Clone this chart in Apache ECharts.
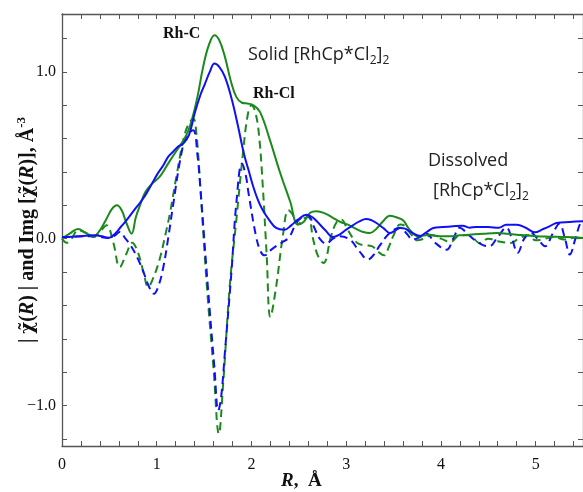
<!DOCTYPE html>
<html>
<head>
<meta charset="utf-8">
<script src="https://cdn.jsdelivr.net/npm/echarts@6/dist/echarts.min.js"></script>
<style>
html,body{margin:0;padding:0;background:#fff;}
#chart{width:583px;height:492px;}
</style>
</head>
<body>
<div id="chart"></div>
<script>
// ---- Data ----
// Solid [RhCp*Cl2]2 : magnitude |chi(R)|
var solidAbsR = [0, 0.08, 0.17, 0.25, 0.33, 0.40, 0.47, 0.53, 0.58, 0.63, 0.68, 0.735, 0.78, 0.83, 0.88, 0.95, 1.03, 1.12, 1.20, 1.26, 1.32, 1.37, 1.43, 1.49, 1.55, 1.61, 1.66, 1.72, 1.78, 1.84, 1.90, 1.96, 2.02, 2.09, 2.19, 2.30, 2.41, 2.49, 2.55, 2.62, 2.69, 2.78, 2.86, 2.94, 3.02, 3.10, 3.18, 3.25, 3.32, 3.39, 3.46, 3.52, 3.60, 3.67, 3.76, 3.88, 3.99, 4.09, 4.20, 4.30, 4.45, 4.59, 4.70, 4.80, 4.90, 5.01, 5.15, 5.29, 5.40, 5.50];
var solidAbs  = [0.00, 0.03, 0.058, 0.035, 0.015, 0.05, 0.12, 0.18, 0.20, 0.17, 0.094, 0.03, 0.13, 0.21, 0.28, 0.33, 0.37, 0.45, 0.52, 0.57, 0.63, 0.71, 0.85, 1.03, 1.16, 1.22, 1.19, 1.09, 0.95, 0.85, 0.815, 0.81, 0.80, 0.76, 0.60, 0.40, 0.22, 0.085, 0.10, 0.155, 0.165, 0.15, 0.125, 0.10, 0.084, 0.06, 0.04, 0.034, 0.06, 0.104, 0.138, 0.13, 0.11, 0.054, 0.014, 0.024, 0.014, 0.014, 0.02, 0.024, 0.03, 0.034, 0.03, 0.024, 0.02, 0.014, 0.012, 0.01, 0.008, 0.004];

// Solid [RhCp*Cl2]2 : imaginary part
var solidImR = [0, 0.05, 0.10, 0.17, 0.25, 0.33, 0.40, 0.47, 0.54, 0.61, 0.68, 0.74, 0.80, 0.86, 0.91, 0.96, 1.03, 1.09, 1.14, 1.21, 1.28, 1.33, 1.385, 1.42, 1.46, 1.53, 1.60, 1.656, 1.70, 1.77, 1.84, 1.91, 1.96, 2.00, 2.04, 2.08, 2.12, 2.16, 2.20, 2.26, 2.33, 2.39, 2.44, 2.49, 2.55, 2.60, 2.65, 2.70, 2.76, 2.84, 2.90, 2.95, 3.01, 3.07, 3.13, 3.20, 3.27, 3.34, 3.40, 3.45, 3.50, 3.57, 3.61, 3.68, 3.75, 3.82, 3.90, 4.00, 4.10, 4.20, 4.30, 4.41, 4.50, 4.60, 4.74, 4.82, 4.92, 5.00, 5.10, 5.20, 5.30, 5.40, 5.50];
var solidIm  = [0, -0.025, 0.0, 0.05, 0.035, 0.01, 0.04, 0.08, -0.02, -0.17, -0.09, -0.025, -0.08, -0.20, -0.29, -0.24, -0.125, 0.02, 0.154, 0.38, 0.59, 0.68, 0.72, 0.62, 0.31, -0.29, -0.78, -1.17, -0.88, -0.29, 0.11, 0.51, 0.74, 0.80, 0.76, 0.62, 0.31, -0.09, -0.47, -0.29, 0.01, 0.17, 0.14, 0.085, 0.12, 0.13, 0.0, -0.10, -0.146, 0.014, 0.10, 0.114, 0.06, 0.004, -0.03, -0.04, -0.045, -0.08, -0.10, -0.05, 0.02, 0.085, 0.08, 0.03, -0.01, 0.0, 0.02, 0.0, -0.02, 0.02, 0.02, -0.026, 0.0, -0.015, -0.026, 0.0, 0.02, -0.01, 0.0, 0.01, -0.005, 0.005, 0.0];

// Dissolved [RhCp*Cl2]2 : magnitude |chi(R)|
var dissAbsR = [0, 0.10, 0.20, 0.33, 0.42, 0.49, 0.56, 0.62, 0.68, 0.76, 0.83, 0.89, 0.95, 1.01, 1.07, 1.12, 1.17, 1.22, 1.28, 1.34, 1.40, 1.46, 1.51, 1.56, 1.61, 1.66, 1.72, 1.79, 1.86, 1.92, 1.97, 2.02, 2.07, 2.12, 2.19, 2.26, 2.35, 2.42, 2.49, 2.58, 2.64, 2.69, 2.78, 2.86, 2.93, 3.00, 3.07, 3.14, 3.21, 3.27, 3.32, 3.40, 3.46, 3.52, 3.57, 3.62, 3.67, 3.78, 3.85, 3.92, 4.02, 4.13, 4.23, 4.30, 4.37, 4.50, 4.61, 4.69, 4.80, 4.90, 4.99, 5.08, 5.15, 5.22, 5.36, 5.50];
var dissAbs  = [0.01, 0.012, 0.015, 0.02, 0.015, 0.004, 0.03, 0.07, 0.11, 0.17, 0.22, 0.27, 0.33, 0.39, 0.44, 0.49, 0.52, 0.55, 0.57, 0.62, 0.75, 0.86, 0.93, 1.00, 1.05, 1.03, 0.97, 0.84, 0.67, 0.51, 0.41, 0.31, 0.23, 0.17, 0.11, 0.065, 0.054, 0.08, 0.114, 0.144, 0.13, 0.104, 0.05, 0.01, 0.025, 0.054, 0.08, 0.104, 0.118, 0.11, 0.094, 0.06, 0.034, 0.05, 0.064, 0.06, 0.044, 0.016, 0.04, 0.064, 0.07, 0.075, 0.078, 0.066, 0.07, 0.07, 0.065, 0.084, 0.084, 0.064, 0.038, 0.058, 0.075, 0.094, 0.10, 0.104];

// Dissolved [RhCp*Cl2]2 : imaginary part
var dissImR = [0, 0.10, 0.20, 0.30, 0.40, 0.50, 0.56, 0.61, 0.67, 0.73, 0.80, 0.86, 0.92, 0.97, 1.02, 1.07, 1.12, 1.17, 1.26, 1.32, 1.385, 1.43, 1.46, 1.54, 1.61, 1.65, 1.68, 1.72, 1.79, 1.84, 1.90, 1.94, 1.97, 2.05, 2.10, 2.14, 2.20, 2.26, 2.33, 2.40, 2.47, 2.54, 2.60, 2.66, 2.72, 2.79, 2.86, 2.93, 3.04, 3.14, 3.23, 3.30, 3.35, 3.46, 3.57, 3.64, 3.70, 3.78, 3.85, 3.93, 4.06, 4.13, 4.20, 4.28, 4.36, 4.45, 4.51, 4.60, 4.69, 4.75, 4.81, 4.88, 4.95, 5.02, 5.10, 5.18, 5.25, 5.31, 5.36, 5.42, 5.47, 5.50];
var dissIm  = [0.01, 0.01, 0.015, 0.015, 0.01, 0.005, 0.02, 0.04, 0.0, -0.045, -0.12, -0.20, -0.29, -0.33, -0.28, -0.17, 0.0, 0.19, 0.51, 0.62, 0.65, 0.50, 0.31, -0.29, -0.78, -1.03, -0.95, -0.68, -0.19, 0.21, 0.45, 0.38, 0.27, 0.01, -0.08, -0.10, -0.07, -0.045, -0.02, 0.01, 0.09, 0.13, 0.135, 0.07, 0.0, -0.03, 0.0, 0.014, -0.006, -0.076, -0.125, -0.09, -0.045, 0.035, 0.065, 0.03, -0.005, 0.01, 0.03, -0.02, -0.066, 0.0, 0.066, 0.03, -0.01, -0.04, -0.045, 0.01, 0.066, 0.0, -0.085, 0.0, 0.035, 0.0, -0.045, 0.03, 0.09, 0.0, -0.095, 0.0, 0.09, 0.10];

// Axis ticks and labels
var xTicks = [0, 0.2, 0.4, 0.6, 0.8, 1, 1.2, 1.4, 1.6, 1.8, 2, 2.2, 2.4, 2.6, 2.8, 3, 3.2, 3.4, 3.6, 3.8, 4, 4.2, 4.4, 4.6, 4.8, 5, 5.2, 5.4];
var xLabels = [0, 1, 2, 3, 4, 5];
var yTicks = [-1.2, -1.0, -0.8, -0.6, -0.4, -0.2, 0, 0.2, 0.4, 0.6, 0.8, 1.0, 1.2];
var yLabels = [-1, 0, 1];

function zip(a, b) { return a.map(function (v, i) { return [v, b[i]]; }); }

var GREEN = '#1b8a1b';
var BLUE = '#1010f5';
var FRAME = '#555555';
var SERIF = "'Liberation Serif', 'DejaVu Serif', serif";
var SANS = "'Open Sans', 'Noto Sans', sans-serif";

var chart = echarts.init(document.getElementById('chart'), null, {renderer: 'canvas'});

function tickAxis(extra) {
  return Object.assign({
    type: 'value',
    axisLine: {show: true, onZero: false, lineStyle: {color: FRAME, width: 1.3}},
    axisTick: {show: true, inside: true, length: 5, lineStyle: {color: FRAME, width: 1}},
    splitLine: {show: false},
    axisLabel: {show: false}
  }, extra);
}

var SMOOTH = 0.4;

var option = {
  animation: false,
  backgroundColor: '#ffffff',
  grid: {left: 62, right: 0, top: 14, bottom: 46, containLabel: false, outerBoundsMode: 'none'},
  xAxis: [
    tickAxis({
      position: 'bottom', min: 0, max: 5.5,
      axisTick: {show: true, inside: true, length: 5, customValues: xTicks, lineStyle: {color: FRAME, width: 1}},
      axisLabel: {show: true, customValues: xLabels, fontFamily: SERIF, fontSize: 16, color: '#111', margin: 11,
        formatter: function (v) { return String(Math.round(v)); }}
    }),
    tickAxis({
      position: 'top', min: 0, max: 5.5,
      axisTick: {show: true, inside: true, length: 5, customValues: xTicks, lineStyle: {color: FRAME, width: 1}}
    })
  ],
  yAxis: [
    tickAxis({
      position: 'left', min: -1.243, max: 1.347,
      axisTick: {show: true, inside: true, length: 5, customValues: yTicks, lineStyle: {color: FRAME, width: 1}},
      axisLabel: {show: true, customValues: yLabels, fontFamily: SERIF, fontSize: 16, color: '#111', margin: 6,
        formatter: function (v) { var r = Math.round(v); return (r < 0 ? '\u2212' : '') + Math.abs(r).toFixed(1); }},
      name: '{b|| }{chi|\u03C7\u0303}{b|(}{bi|R}{b|) | and Img [}{chi|\u03C7\u0303}{b|(}{bi|R}{b|)], \u00C5}{sup|-3}',
      nameLocation: 'middle', nameGap: 21, nameRotate: 90, nameMoveOverlap: false,
      nameTextStyle: {
        rich: {
          b: {fontFamily: SERIF, fontWeight: 'bold', fontSize: 20, color: '#111', lineHeight: 26},
          chi: {fontFamily: "'DejaVu Serif', serif", fontWeight: 'bold', fontSize: 18, color: '#111', lineHeight: 26},
          bi: {fontFamily: SERIF, fontWeight: 'bold', fontStyle: 'italic', fontSize: 20, color: '#111', lineHeight: 26},
          sup: {fontFamily: SERIF, fontWeight: 'bold', fontSize: 13, color: '#111', lineHeight: 13, verticalAlign: 'top'}
        }
      }
    }),
    tickAxis({
      position: 'right', min: -1.243, max: 1.347,
      axisTick: {show: true, inside: true, length: 5, customValues: yTicks, lineStyle: {color: FRAME, width: 1}}
    })
  ],
  series: [
    {name: 'Solid Im', type: 'line', data: zip(solidImR, solidIm), showSymbol: false, smooth: SMOOTH,
      lineStyle: {color: GREEN, width: 2, type: [8, 5]}, z: 2},
    {name: 'Dissolved Im', type: 'line', data: zip(dissImR, dissIm), showSymbol: false, smooth: SMOOTH,
      lineStyle: {color: BLUE, width: 2, type: [8, 5]}, z: 2},
    {name: 'Solid |chi|', type: 'line', data: zip(solidAbsR, solidAbs), showSymbol: false, smooth: SMOOTH,
      lineStyle: {color: GREEN, width: 2}, z: 3},
    {name: 'Dissolved |chi|', type: 'line', data: zip(dissAbsR, dissAbs), showSymbol: false, smooth: SMOOTH,
      lineStyle: {color: BLUE, width: 2}, z: 3}
  ],
  graphic: [
    {type: 'text', left: 163, top: 26, style: {text: 'Rh-C', font: "bold 16px 'Liberation Serif', serif", fill: '#111'}},
    {type: 'text', left: 253, top: 86, style: {text: 'Rh-Cl', font: "bold 16px 'Liberation Serif', serif", fill: '#111'}},
    {type: 'text', left: 248, top: 46, style: {
      text: '{m|Solid [RhCp*Cl}{s|2}{m|]}{s|2}',
      rich: {
        m: {fontFamily: SANS, fontSize: 18, fill: '#222', lineHeight: 24},
        s: {fontFamily: SANS, fontSize: 12, fill: '#222', lineHeight: 12, verticalAlign: 'bottom'}
      }}},
    {type: 'text', left: 428, top: 152, style: {text: 'Dissolved', font: "18px 'Open Sans', sans-serif", fill: '#222'}},
    {type: 'text', left: 433, top: 182, style: {
      text: '{m|[RhCp*Cl}{s|2}{m|]}{s|2}',
      rich: {
        m: {fontFamily: SANS, fontSize: 18, fill: '#222', lineHeight: 24},
        s: {fontFamily: SANS, fontSize: 12, fill: '#222', lineHeight: 12, verticalAlign: 'bottom'}
      }}},
    {type: 'text', left: 281, top: 472, style: {
      text: '{i|R}{b|,  \u00C5}',
      rich: {
        i: {fontFamily: SERIF, fontWeight: 'bold', fontStyle: 'italic', fontSize: 19, fill: '#111'},
        b: {fontFamily: SERIF, fontWeight: 'bold', fontSize: 19, fill: '#111'}
      }}}
  ]
};
chart.setOption(option);
</script>
</body>
</html>
